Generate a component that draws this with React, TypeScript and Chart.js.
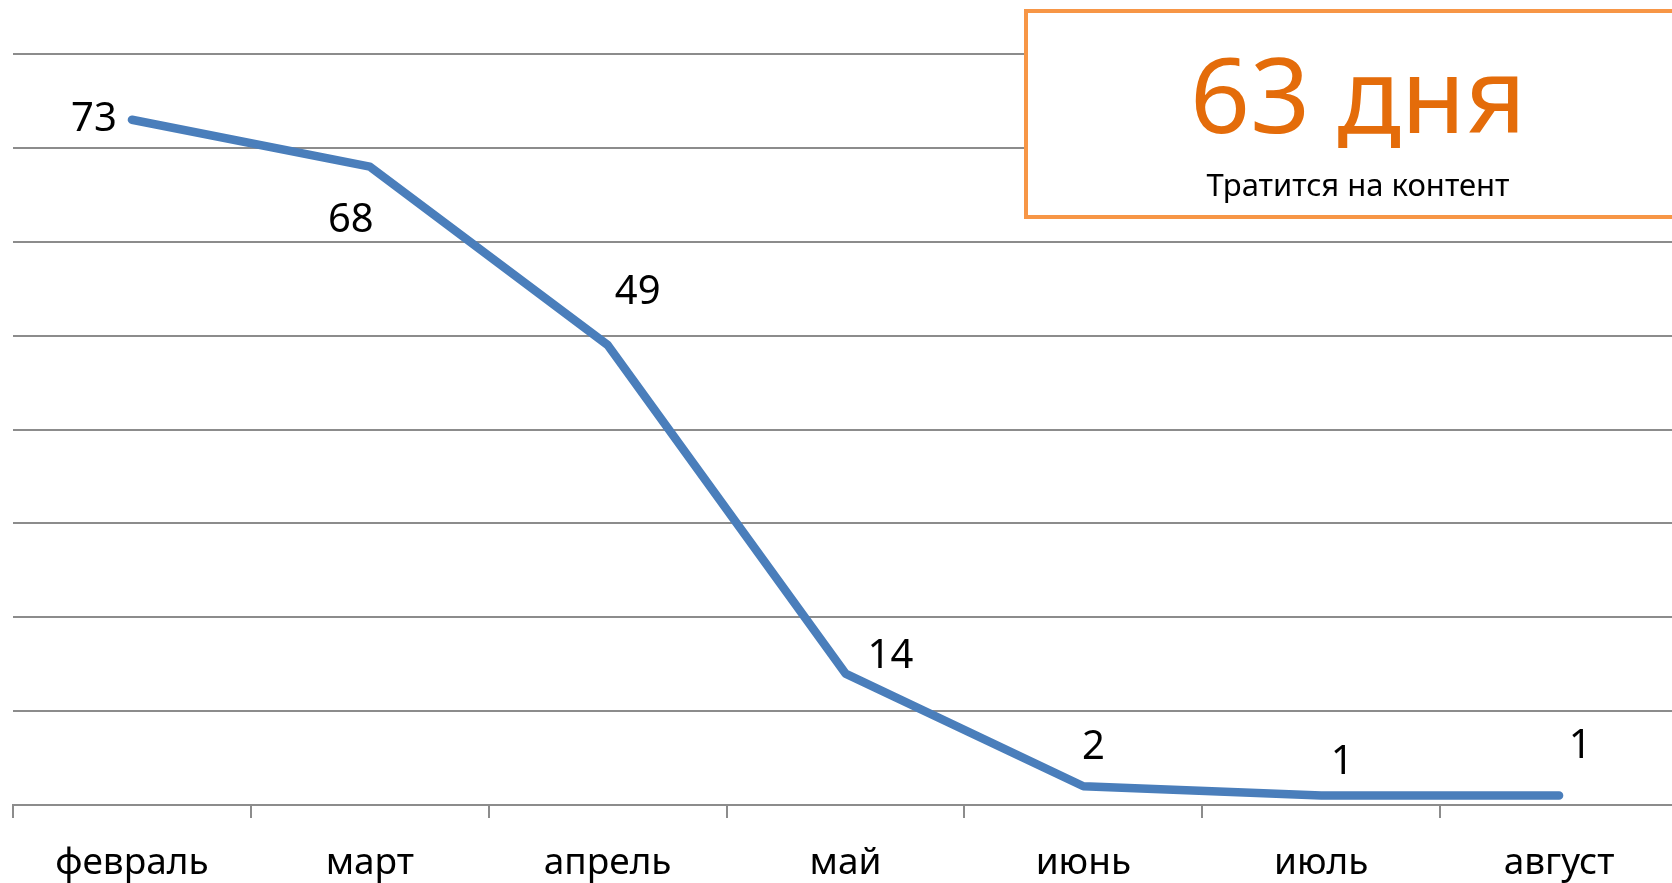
import React, { useEffect, useRef } from "react";
import { Chart, registerables } from "chart.js";

Chart.register(...registerables);

const categories = ["февраль", "март", "апрель", "май", "июнь", "июль", "август"];
const values = [73, 68, 49, 14, 2, 1, 1];
const yMin = 0;
const yMax = 80;
const yStep = 10;
const calloutValue = "63 дня";
const calloutCaption = "Тратится на контент";

// label placement relative to each point (layout, not data)
const labelOffsets: [number, number][] = [
  [-38, 0],
  [-19, 54],
  [30, -52],
  [45, -17],
  [10, -39],
  [21, -33],
  [21, -49],
];

const FONT = "'Noto Sans', 'Open Sans', sans-serif";
const GRID = "#8c8c8c";

const labelsPlugin = {
  id: "pointLabels",
  afterDatasetsDraw(chart: any) {
    const ctx = chart.ctx;
    const meta = chart.getDatasetMeta(0);
    ctx.save();
    ctx.font = `40px ${FONT}`;
    ctx.fillStyle = "#000";
    ctx.textAlign = "center";
    ctx.textBaseline = "middle";
    meta.data.forEach((el: any, i: number) => {
      const [dx, dy] = labelOffsets[i];
      ctx.fillText(String(values[i]), el.x + dx, el.y + dy);
    });
    ctx.restore();
  },
};

const calloutPlugin = {
  id: "callout",
  afterDraw(chart: any) {
    const ctx = chart.ctx;
    ctx.save();
    const x = 1026, y = 11, w = 664, h = 206;
    ctx.fillStyle = "#fff";
    ctx.fillRect(x, y, w, h);
    ctx.strokeStyle = "#F79646";
    ctx.lineWidth = 4;
    ctx.strokeRect(x, y, w, h);
    const cx = x + w / 2;
    ctx.textAlign = "center";
    ctx.textBaseline = "alphabetic";
    ctx.fillStyle = "#E46C0A";
    ctx.font = `105px ${FONT}`;
    ctx.fillText(calloutValue, cx, 133);
    ctx.fillStyle = "#000";
    ctx.font = `31px ${FONT}`;
    ctx.fillText(calloutCaption, cx, 196);
    ctx.restore();
  },
};

export default function App() {
  const ref = useRef<HTMLCanvasElement>(null);
  useEffect(() => {
    document.body.style.margin = "0";
    const chart = new Chart(ref.current!, {
      type: "line",
      data: {
        labels: categories,
        datasets: [
          {
            data: values,
            borderColor: "#4A7EBB",
            borderWidth: 8.5,
            borderCapStyle: "round",
            borderJoinStyle: "round",
            pointRadius: 0,
            pointHoverRadius: 0,
            tension: 0,
            fill: false,
          },
        ],
      },
      options: {
        responsive: false,
        animation: false,
        events: [],
        layout: { padding: { left: 13, top: 54, right: 2, bottom: 0 } },
        plugins: { legend: { display: false }, tooltip: { enabled: false } },
        scales: {
          x: {
            type: "category",
            offset: true,
            grid: {
              display: true,
              drawOnChartArea: false,
              drawTicks: true,
              tickLength: 13,
              color: GRID,
              lineWidth: 2,
              offset: true,
            },
            border: { display: true, color: GRID, width: 2 },
            ticks: {
              font: { family: FONT, size: 37 },
              color: "#000",
              padding: 23,
              maxRotation: 0,
              autoSkip: false,
            },
            afterFit: (s: any) => {
              s.height = 78;
            },
          },
          y: {
            min: yMin,
            max: yMax,
            ticks: { display: false, stepSize: yStep },
            grid: { color: GRID, lineWidth: 2, drawTicks: false },
            border: { display: false },
            afterFit: (s: any) => {
              s.width = 0;
            },
          },
        },
      },
      plugins: [labelsPlugin, calloutPlugin],
    });
    return () => chart.destroy();
  }, []);
  return (
    <div style={{ position: "fixed", left: 0, top: 0, width: 1672, height: 883, overflow: "hidden", background: "#fff" }}>
      <canvas ref={ref} width={1680} height={883} style={{ display: "block" }} />
    </div>
  );
}
